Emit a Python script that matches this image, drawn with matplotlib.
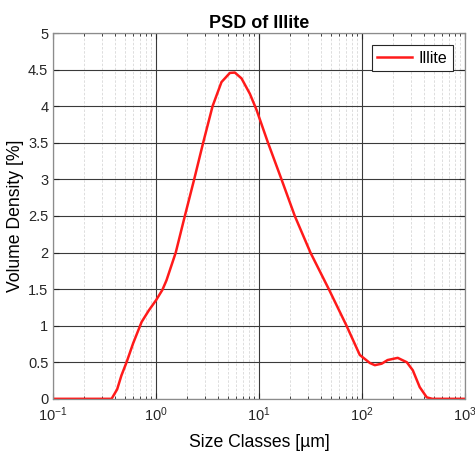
import numpy as np
import matplotlib.pyplot as plt
from matplotlib.ticker import LogLocator, NullFormatter

plt.rcParams['font.family'] = ['Liberation Sans', 'DejaVu Sans']
plt.rcParams['mathtext.fontset'] = 'custom'
plt.rcParams['mathtext.rm'] = 'Liberation Sans'
plt.rcParams['mathtext.it'] = 'Liberation Sans:italic'

#----data: size classes (um) and volume density (%)----
size = [0.1, 0.2, 0.3, 0.369, 0.418, 0.46, 0.516, 0.598, 0.722, 0.85, 1.0, 1.15, 1.26,
        1.55, 1.90, 2.34, 2.86, 3.53, 4.31, 5.2, 5.81, 6.75, 8.13, 9.44, 12.2, 16.5,
        22.2, 31.5, 47.5, 70.6, 95, 119, 133, 155, 177, 222, 272, 311, 363, 425, 480, 1000]
density = [0, 0, 0, 0, 0.13, 0.32, 0.50, 0.76, 1.05, 1.21, 1.35, 1.49, 1.62,
           2.0, 2.5, 3.0, 3.5, 4.0, 4.33, 4.455, 4.46, 4.38, 4.17, 3.95, 3.5, 3.0,
           2.5, 2.0, 1.5, 1.0, 0.6, 0.49, 0.46, 0.48, 0.53, 0.56, 0.50, 0.39, 0.16, 0.02, 0, 0]

fig = plt.figure(figsize=(4.75, 4.51), dpi=100)
ax = fig.add_axes([0.112, 0.1157, 0.867, 0.811])

ax.plot(size, density, color='#ff1a1a', lw=1.8, label='Illite')

ax.set_xscale('log')
ax.set_xlim(0.1, 1000)
ax.set_ylim(0, 5)
ax.set_yticks(np.arange(0, 5.01, 0.5))
ax.set_yticklabels(['0', '0.5', '1', '1.5', '2', '2.5', '3', '3.5', '4', '4.5', '5'])
ax.xaxis.set_minor_locator(LogLocator(base=10, subs=np.arange(2, 10), numticks=20))
ax.xaxis.set_minor_formatter(NullFormatter())

ax.grid(which='major', color='#3a3a3a', lw=0.8, ls='-')
ax.grid(which='minor', axis='x', color='#d8d8d8', lw=0.6, ls=(0, (3, 2)))
ax.tick_params(which='both', direction='in', top=True, right=True, labelsize=10.5, colors='#262626')
ax.tick_params(which='major', length=4)
ax.tick_params(axis='x', which='major', pad=5)
ax.tick_params(which='minor', length=2.5)
for s in ax.spines.values():
    s.set_color('#8c8c8c')
    s.set_linewidth(0.9)

ax.set_title('PSD of Illite', fontsize=13, fontweight='bold', pad=4)
ax.set_xlabel('Size Classes [µm]', fontsize=12.7, labelpad=7)
ax.set_ylabel('Volume Density [%]', fontsize=12.7, labelpad=3)

leg = ax.legend(loc='upper right', fontsize=11.5, fancybox=False, edgecolor='#262626',
                handlelength=2.2, handletextpad=0.4, borderpad=0.35,
                borderaxespad=0.75, framealpha=1)
leg.get_frame().set_linewidth(0.8)

fig.savefig('out.png', dpi=100)
